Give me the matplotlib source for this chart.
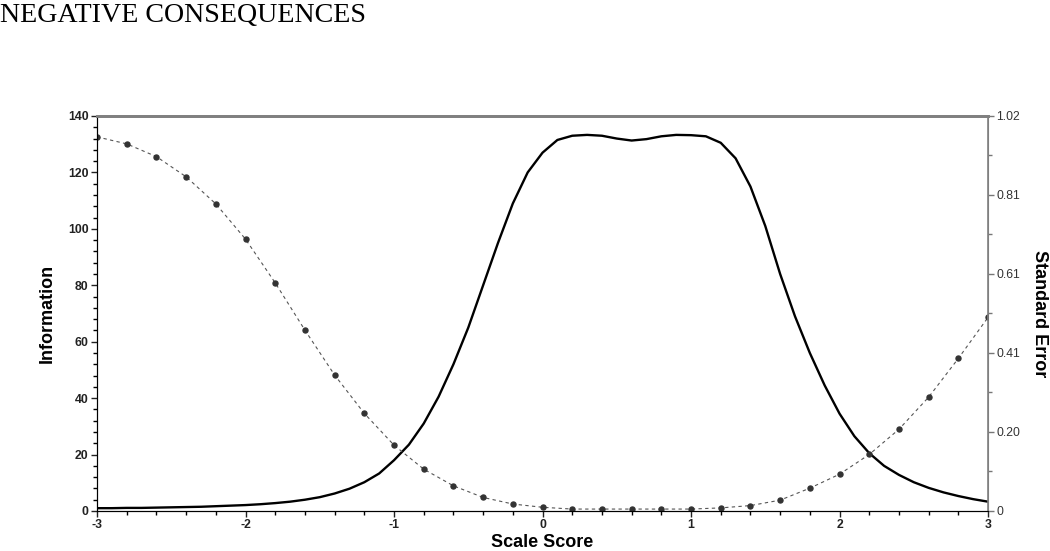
import matplotlib.pyplot as plt
import numpy as np
from matplotlib.ticker import MultipleLocator

plt.rcParams['font.family'] = ['Liberation Sans', 'DejaVu Sans']
plt.rcParams['axes.unicode_minus'] = False

# test information curve, theta step 0.1
theta = np.round(np.arange(-3.0, 3.0001, 0.1), 2)
info = [1.0, 1.0, 1.1, 1.1, 1.2, 1.3, 1.4, 1.5, 1.7, 1.9,
        2.1, 2.4, 2.8, 3.3, 4.0, 4.9, 6.2, 7.9, 10.2, 13.3,
        18.0, 23.5, 31.0, 40.5, 52.0, 65.0, 80.0, 95.0, 109.0, 120.0,
        127.0, 131.5, 133.0, 133.3, 133.0, 132.0, 131.3, 131.8, 132.8, 133.3,
        133.2, 132.8, 130.5, 125.0, 115.0, 101.0, 84.0, 69.0, 56.0, 44.5,
        34.5, 26.5, 20.5, 16.0, 12.8, 10.2, 8.2, 6.6, 5.3, 4.2, 3.3]

# standard error, theta step 0.2
theta_se = np.round(np.arange(-3.0, 3.0001, 0.2), 2)
se = [0.966, 0.948, 0.915, 0.863, 0.793, 0.702, 0.589, 0.467, 0.351, 0.252,
      0.170, 0.108, 0.065, 0.035, 0.018, 0.0096, 0.005, 0.005, 0.005, 0.005,
      0.005, 0.008, 0.014, 0.028, 0.059, 0.095, 0.146, 0.211, 0.294, 0.394, 0.500]

se_ticks = [0, 0.204, 0.408, 0.612, 0.816, 1.02]
se_labels = ["0", "0.20", "0.41", "0.61", "0.81", "1.02"]

fig = plt.figure(figsize=(10.5, 5.51), dpi=100)
ax = fig.add_axes([0.0924, 0.0726, 0.8486, 0.7169])
ax2 = ax.twinx()

ax.plot(theta, info, color="black", lw=1.7, zorder=3,
        solid_joinstyle="round", solid_capstyle="round")
ax2.plot(theta_se, se, color="#555555", lw=0.8, linestyle=(0, (3, 3)),
         marker="o", markersize=3.6, markerfacecolor="#333333",
         markeredgecolor="#333333")

ax.set_xlim(-3, 3)
ax.set_ylim(0, 140)
ax2.set_ylim(0, 1.02)

ax.xaxis.set_major_locator(MultipleLocator(1))
ax.xaxis.set_minor_locator(MultipleLocator(0.2))
ax.yaxis.set_major_locator(MultipleLocator(20))
ax.yaxis.set_minor_locator(MultipleLocator(4))
ax2.set_yticks(se_ticks)
ax2.set_yticklabels(se_labels)
ax2.set_yticks([(a + b) / 2 for a, b in zip(se_ticks[:-1], se_ticks[1:])], minor=True)

ax.tick_params(axis="both", which="major", length=4, width=1, labelsize=8.8,
               colors="#222222", pad=2)
ax.tick_params(axis="both", which="minor", length=3, width=1)
ax2.tick_params(axis="y", which="major", length=4, width=1, labelsize=8.8,
                color="#777777", labelcolor="#333333", pad=2)
ax2.tick_params(axis="y", which="minor", length=3, width=1, color="#777777")
for lab in ax.get_xticklabels() + ax.get_yticklabels():
    lab.set_fontweight("bold")

for name in ["top", "right"]:
    ax.spines[name].set_color("#808080")
    ax2.spines[name].set_color("#808080")
ax.spines["top"].set_linewidth(2)
ax2.spines["top"].set_linewidth(2)
ax2.spines["right"].set_linewidth(1.2)
ax.spines["left"].set_color("black")
ax.spines["bottom"].set_color("black")

ax.set_xlabel("Scale Score", fontsize=13, fontweight="bold", va="center")
ax.xaxis.set_label_coords(0.5, -0.081)
ax.set_ylabel("Information", fontsize=13, fontweight="bold", va="center")
ax.yaxis.set_label_coords(-0.056, 0.5)
ax2.set_ylabel("Standard Error", fontsize=13, fontweight="bold",
               rotation=-90, va="center")
ax2.yaxis.set_label_coords(1.058, 0.5)

fig.text(0.0, 1 - 22 / 551, "NEGATIVE CONSEQUENCES", fontsize=20.2,
         family=["Liberation Serif", "DejaVu Serif"], va="baseline", ha="left")

fig.savefig("out.png", dpi=100)
